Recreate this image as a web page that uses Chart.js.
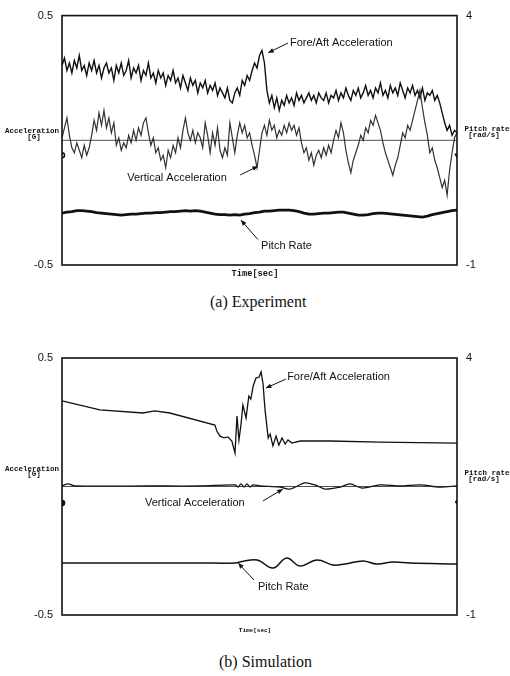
<!DOCTYPE html>
<html>
<head>
<meta charset="utf-8">
<script src="https://cdn.jsdelivr.net/npm/chart.js@4.4.1/dist/chart.umd.min.js"></script>
<style>
  body { margin: 0; background: #fff; width: 510px; height: 676px; position: relative; overflow: hidden; }
  canvas { position: absolute; left: 0; }
  .cap { position: absolute; font-family: "Liberation Serif", serif; font-size: 16px; color: #111; white-space: nowrap; }
</style>
</head>
<body>
<canvas id="exp" width="510" height="290" style="top:0"></canvas>
<div class="cap" style="left:210px;top:293px">(a) Experiment</div>
<canvas id="sim" width="510" height="300" style="top:340px"></canvas>
<div class="cap" style="left:219px;top:653px">(b) Simulation</div>
<script>
// tick labels
const accTicks = [-0.5, 0.5];
const pitchTicks = [-1, 4];

// (a) experiment, sampled every 0.625 time units
const expForeAft = [
  0.30, 0.33, 0.28, 0.31, 0.27, 0.32, 0.29, 0.34, 0.28, 0.30,
  0.26, 0.31, 0.28, 0.32, 0.27, 0.30, 0.25, 0.29, 0.31, 0.27,
  0.29, 0.24, 0.30, 0.27, 0.31, 0.26, 0.28, 0.32, 0.25, 0.29,
  0.27, 0.30, 0.24, 0.28, 0.26, 0.31, 0.25, 0.27, 0.23, 0.28,
  0.25, 0.27, 0.22, 0.26, 0.24, 0.28, 0.23, 0.25, 0.21, 0.26,
  0.23, 0.20, 0.25, 0.22, 0.24, 0.19, 0.23, 0.21, 0.24, 0.19,
  0.22, 0.20, 0.23, 0.18, 0.21, 0.19, 0.17, 0.21, 0.16, 0.15,
  0.19, 0.21, 0.18, 0.24, 0.22, 0.26, 0.24, 0.28, 0.31, 0.29,
  0.34, 0.36, 0.31, 0.20, 0.15, 0.18, 0.13, 0.17, 0.12, 0.16,
  0.14, 0.18, 0.15, 0.17, 0.14, 0.19, 0.16, 0.18, 0.15, 0.17,
  0.19, 0.16, 0.18, 0.15, 0.19, 0.17, 0.16, 0.19, 0.15, 0.18,
  0.17, 0.20, 0.16, 0.19, 0.17, 0.21, 0.18, 0.16, 0.20, 0.18,
  0.21, 0.17, 0.19, 0.22, 0.18, 0.20, 0.17, 0.21, 0.19, 0.23,
  0.18, 0.20, 0.17, 0.22, 0.19, 0.21, 0.18, 0.23, 0.20, 0.17,
  0.21, 0.19, 0.22, 0.18, 0.20, 0.17, 0.21, 0.16, 0.19, 0.18,
  0.20, 0.16, 0.18, 0.15, 0.11, 0.07, 0.04, 0.06, 0.02, 0.04, 0.03
];
const expVertical = [
  0.01, 0.05, 0.09, 0.02, -0.03, -0.05, -0.01, -0.04, -0.07, -0.02,
  -0.06, -0.03, 0.02, 0.08, 0.04, 0.11, 0.06, 0.12, 0.05, 0.09,
  0.03, 0.07, -0.02, 0.01, -0.04, -0.01, -0.03, 0.02, -0.01, 0.04,
  0.00, 0.05, 0.02, 0.07, 0.09, 0.03, -0.02, 0.01, -0.05, -0.03,
  -0.08, -0.06, -0.11, -0.04, -0.07, -0.02, -0.05, 0.01, -0.03, 0.04,
  0.09, 0.03, 0.00, 0.04, -0.01, 0.03, 0.01, -0.03, 0.07, 0.02,
  -0.05, 0.03, -0.02, 0.05, -0.04, -0.07, -0.03, -0.06, 0.07, 0.01,
  -0.05, 0.02, 0.07, 0.03, 0.06, 0.01, 0.03, -0.02, -0.06, -0.11,
  -0.04, 0.03, 0.06, 0.02, 0.08, 0.04, 0.06, 0.01, 0.04, 0.02,
  0.06, 0.03, 0.07, 0.04, 0.06, 0.02, 0.05, -0.01, -0.05, -0.03,
  -0.08, -0.05, -0.10, -0.06, -0.04, -0.07, -0.03, -0.06, -0.02, -0.05,
  0.00, 0.04, 0.01, 0.07, 0.03, -0.04, -0.09, -0.13, -0.08, -0.05,
  -0.02, 0.02, 0.00, 0.05, 0.03, 0.08, 0.06, 0.10, 0.07, 0.04,
  -0.01, -0.05, -0.08, -0.11, -0.14, -0.10, -0.07, -0.02, 0.03, 0.01,
  0.06, 0.04, 0.08, 0.12, 0.16, 0.20, 0.13, 0.07, 0.02, -0.05,
  -0.03, -0.08, -0.11, -0.15, -0.19, -0.16, -0.22, -0.12, -0.05, 0.01, 0.03
];
// pitch rate, sampled every 1.25 time units
const expPitch = [
  0.04, 0.06, 0.07, 0.09, 0.09, 0.08, 0.07, 0.05, 0.04, 0.03,
  0.02, 0.01, 0.00, 0.01, 0.02, 0.02, 0.03, 0.04, 0.04, 0.05,
  0.05, 0.06, 0.07, 0.07, 0.08, 0.09, 0.08, 0.09, 0.08, 0.06,
  0.04, 0.02, 0.01, 0.01, 0.00, 0.01, 0.00, 0.02, 0.03, 0.05,
  0.06, 0.08, 0.08, 0.09, 0.10, 0.10, 0.10, 0.09, 0.07, 0.04,
  0.02, 0.02, 0.03, 0.04, 0.04, 0.05, 0.06, 0.06, 0.04, 0.02,
  0.00, 0.00, 0.01, 0.03, 0.04, 0.04, 0.03, 0.02, 0.01, 0.00,
  -0.01, -0.02, -0.03, -0.04, -0.02, 0.01, 0.03, 0.05, 0.07, 0.09, 0.10
];

// (b) simulation, [time, value]
const simForeAft = [
  [0, 0.333], [9.6, 0.298], [20.5, 0.286], [23.5, 0.294], [27.3, 0.286], [38.7, 0.239],
  [39.2, 0.216], [40.0, 0.196], [41.0, 0.189], [42.0, 0.193], [43.0, 0.177], [43.8, 0.130],
  [44.3, 0.274], [44.8, 0.181], [45.3, 0.239], [45.8, 0.317], [46.6, 0.267], [47.3, 0.352],
  [47.8, 0.340], [48.4, 0.391], [49.1, 0.422], [49.9, 0.426], [50.4, 0.446], [50.9, 0.399],
  [51.4, 0.298], [52.2, 0.189], [52.7, 0.204], [53.4, 0.158], [54.2, 0.196], [54.9, 0.161],
  [55.7, 0.189], [56.5, 0.165], [57.2, 0.181], [58.2, 0.169], [60.3, 0.177], [67.8, 0.177],
  [80.5, 0.173], [100, 0.169]
];
const simVertical = [
  [0, 0.002], [1.5, 0.010], [3.3, 0.002], [22.3, 0.002], [35, 0.002], [43.8, 0.006],
  [44.6, -0.002], [45.3, 0.010], [46.1, -0.002], [46.8, 0.010], [47.6, -0.002], [48.4, 0.006],
  [50.1, 0.002], [55.2, -0.002], [57.7, -0.010], [61.5, 0.014], [64.1, 0.006], [66.6, -0.010],
  [70.4, -0.002], [72.9, 0.010], [76.0, -0.006], [80.5, 0.006], [85.6, 0.002], [90.6, 0.006],
  [95.7, -0.002], [100, 0.002]
];
const simPitch = [
  [0, 0.012], [22.3, 0.012], [35, 0.012], [43.8, 0.012], [45.6, 0.041], [49.4, 0.070],
  [53.4, -0.086], [56.9, 0.109], [60.2, -0.047], [64.6, 0.070], [68.6, -0.027], [71.6, -0.008],
  [76.2, 0.051], [79.7, -0.008], [83.8, 0.031], [88.1, 0.012], [100, -0.008]
];

const sampled = (vals, dt) => vals.map((v, i) => ({ x: i * dt, y: v }));
const pairs = (arr) => arr.map(p => ({ x: p[0], y: p[1] }));

const notesPlugin = {
  id: 'notes',
  afterDatasetsDraw(chart, args, opts) {
    const ctx = chart.ctx;
    const a = chart.chartArea;
    const xs = chart.scales.x, ys = chart.scales.y;
    ctx.save();
    ctx.strokeStyle = '#111';
    ctx.lineWidth = 1.6;
    ctx.strokeRect(a.left, a.top, a.right - a.left, a.bottom - a.top);

    ctx.fillStyle = '#111';
    ctx.textBaseline = 'middle';
    ctx.font = '11px "Liberation Sans", Arial, sans-serif';
    ctx.textAlign = 'left';
    opts.texts.forEach(t => {
      ctx.fillText(t.text, xs.getPixelForValue(t.x), ys.getPixelForValue(t.y));
    });

    ctx.lineWidth = 1;
    opts.arrows.forEach(ar => {
      const x1 = xs.getPixelForValue(ar[0]), y1 = ys.getPixelForValue(ar[1]);
      const x2 = xs.getPixelForValue(ar[2]), y2 = ys.getPixelForValue(ar[3]);
      const ang = Math.atan2(y2 - y1, x2 - x1);
      ctx.beginPath();
      ctx.moveTo(x1, y1);
      ctx.lineTo(x2, y2);
      ctx.stroke();
      ctx.beginPath();
      ctx.moveTo(x2, y2);
      ctx.lineTo(x2 - 6 * Math.cos(ang - 0.4), y2 - 6 * Math.sin(ang - 0.4));
      ctx.lineTo(x2 - 6 * Math.cos(ang + 0.4), y2 - 6 * Math.sin(ang + 0.4));
      ctx.closePath();
      ctx.fill();
    });

    // axis captions
    ctx.font = 'bold 7.5px "Liberation Mono", monospace';
    ctx.textAlign = 'center';
    const ly = ys.getPixelForValue(opts.leftLabelY);
    ctx.fillText('Acceleration', 32, ly);
    ctx.fillText('[G]', 34, ly + opts.gap);
    const ry = ys.getPixelForValue(opts.rightLabelY);
    ctx.fillText('Pitch rate', 487, ry);
    ctx.fillText('[rad/s]', 484, ry + opts.gap);
    ctx.font = 'bold ' + opts.timeFont + 'px "Liberation Mono", monospace';
    ctx.fillText('Time[sec]', 255, a.bottom + opts.timeOffset);
    ctx.restore();
  }
};

function makeChart(id, datasets, padTop, xH, notes) {
  return new Chart(document.getElementById(id), {
    type: 'line',
    data: { datasets: datasets },
    options: {
      responsive: false,
      animation: false,
      layout: { padding: { top: padTop, left: 0, right: 0, bottom: 0 } },
      elements: { point: { radius: 0 }, line: { tension: 0 } },
      plugins: { legend: { display: false }, tooltip: { enabled: false }, notes: notes },
      scales: {
        x: {
          type: 'linear', min: 0, max: 100,
          ticks: { display: false },
          grid: { display: false, drawTicks: false },
          border: { display: false },
          afterFit: (s) => { s.height = xH; }
        },
        y: {
          position: 'left', min: -0.5, max: 0.5,
          afterBuildTicks: (s) => { s.ticks = accTicks.map(v => ({ value: v })); },
          ticks: { padding: 9, color: '#111', font: { family: '"Liberation Sans", Arial', size: 11 } },
          grid: { display: false, drawTicks: false },
          border: { display: false },
          afterFit: (s) => { s.width = 62; }
        },
        y2: {
          position: 'right', min: -1, max: 4,
          afterBuildTicks: (s) => { s.ticks = pitchTicks.map(v => ({ value: v })); },
          ticks: { padding: 9, color: '#111', font: { family: '"Liberation Sans", Arial', size: 11 } },
          grid: { display: false, drawTicks: false },
          border: { display: false },
          afterFit: (s) => { s.width = 53; }
        }
      }
    },
    plugins: [notesPlugin]
  });
}

const zeroLine = { data: [{ x: 0, y: 0 }, { x: 100, y: 0 }], yAxisID: 'y', borderColor: '#222', borderWidth: 0.8 };

makeChart('exp', [
  zeroLine,
  { data: sampled(expVertical, 0.625), yAxisID: 'y', borderColor: '#333', borderWidth: 1.2 },
  { data: sampled(expForeAft, 0.625), yAxisID: 'y', borderColor: '#111', borderWidth: 1.4 },
  { data: sampled(expPitch, 1.25), yAxisID: 'y2', borderColor: '#111', borderWidth: 2.8 },
  { data: [{ x: 0, y: -0.06 }], yAxisID: 'y', showLine: false, pointRadius: 2.5, pointBackgroundColor: '#fff', pointBorderColor: '#111', pointBorderWidth: 1.5 },
  { data: [{ x: 100, y: -0.06 }], yAxisID: 'y', showLine: false, pointStyle: 'triangle', pointRadius: 2.5, pointBackgroundColor: '#111', pointBorderColor: '#111', rotation: 180 }
], 10, 25, {
  texts: [
    { x: 57.7, y: 0.39, text: 'Fore/Aft Acceleration' },
    { x: 16.5, y: -0.151, text: 'Vertical Acceleration' },
    { x: 50.4, y: -0.425, text: 'Pitch Rate' }
  ],
  arrows: [
    [57.2, 0.39, 52.2, 0.351],
    [45.1, -0.139, 49.6, -0.104],
    [49.6, -0.398, 45.3, -0.320]
  ],
  leftLabelY: 0.037, rightLabelY: 0.043, gap: 6, timeFont: 8.7, timeOffset: 9
});

makeChart('sim', [
  zeroLine,
  { data: pairs(simVertical), yAxisID: 'y', borderColor: '#111', borderWidth: 1.3, tension: 0.3 },
  { data: pairs(simForeAft), yAxisID: 'y', borderColor: '#111', borderWidth: 1.3 },
  { data: pairs(simPitch), yAxisID: 'y2', borderColor: '#111', borderWidth: 1.5, tension: 0.4 },
  { data: [{ x: 0, y: -0.064 }], yAxisID: 'y', showLine: false, pointRadius: 3, pointBackgroundColor: '#111', pointBorderColor: '#111' },
  { data: [{ x: 100, y: -0.06 }], yAxisID: 'y', showLine: false, pointRadius: 1.5, pointBackgroundColor: '#111', pointBorderColor: '#111' }
], 18, 25, {
  texts: [
    { x: 57, y: 0.426, text: 'Fore/Aft Acceleration' },
    { x: 21, y: -0.064, text: 'Vertical Acceleration' },
    { x: 49.6, y: -0.391, text: 'Pitch Rate' }
  ],
  arrows: [
    [56.7, 0.418, 51.6, 0.383],
    [50.9, -0.056, 55.9, -0.01],
    [48.6, -0.364, 44.6, -0.298]
  ],
  leftLabelY: 0.068, rightLabelY: 0.052, gap: 5.5, timeFont: 6, timeOffset: 15
});
</script>
</body>
</html>
